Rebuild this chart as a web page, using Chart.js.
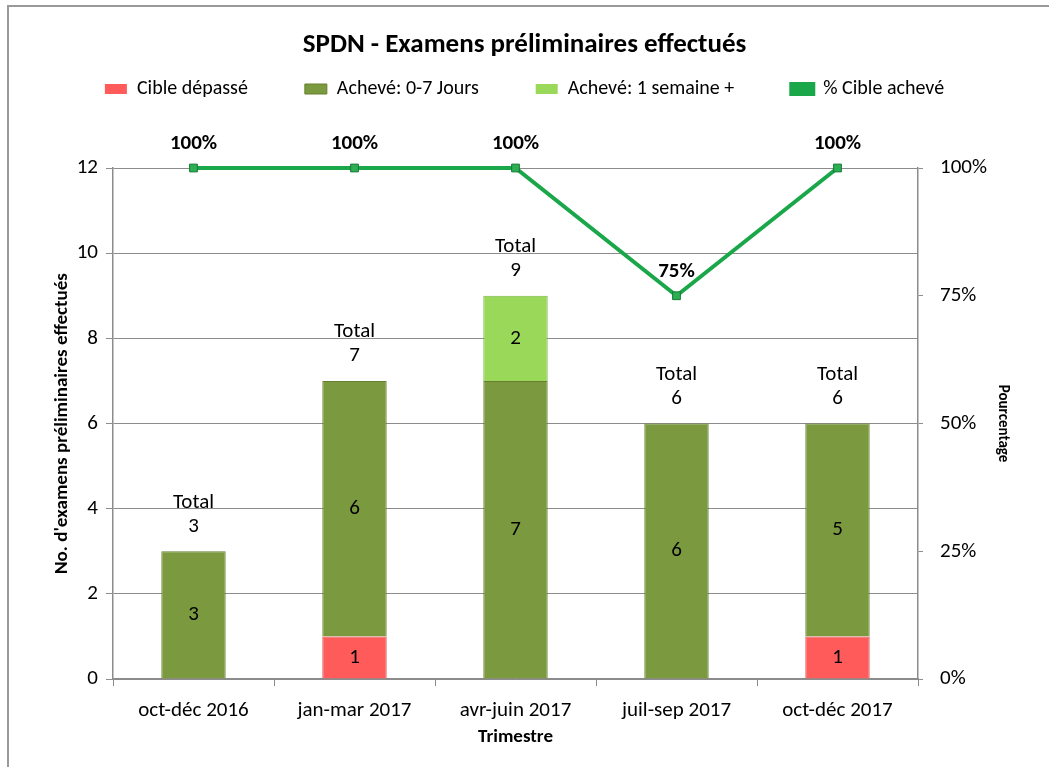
<!DOCTYPE html>
<html lang="fr">
<head>
<meta charset="utf-8">
<title>SPDN - Examens préliminaires effectués</title>
<script src="https://cdn.jsdelivr.net/npm/chart.js@4.4.1/dist/chart.umd.min.js"></script>
<style>
  html, body { margin: 0; padding: 0; background: #fff; overflow: hidden; }
  #wrap { position: relative; width: 1049px; height: 767px; }
  #frame {
    position: absolute; left: 7px; top: 5px; width: 1100px; height: 800px;
    border-top: 2px solid #9a9a9a; border-left: 2px solid #9a9a9a;
    pointer-events: none;
  }
</style>
</head>
<body>
<div id="wrap">
  <canvas id="chart" width="1049" height="767"></canvas>
  <div id="frame"></div>
</div>
<script>
  // ---- data ----
  const trimestres = ['oct-déc 2016', 'jan-mar 2017', 'avr-juin 2017', 'juil-sep 2017', 'oct-déc 2017'];
  const cibleDepasse = [0, 1, 0, 0, 1];
  const acheve07 = [3, 6, 7, 6, 5];
  const acheveSemaine = [0, 0, 2, 0, 0];
  const pctCible = [100, 100, 100, 75, 100];
  const countTicks = [0, 2, 4, 6, 8, 10, 12];
  const pctTicks = [0, 25, 50, 75, 100];

  const FONT = "Carlito, Lato, 'Open Sans', sans-serif";
  const LEGEND_PAD = 57;
  const LEGEND_SIZE = 20;
  const LABEL_SIZE = 21;

  // legend: wide item spacing, but keep the row near the title
  const legendTweak = {
    id: 'legendTweak',
    beforeInit(chart) {
      const lg = chart.legend;
      const fit = lg.fit;
      lg.fit = function () { fit.call(this); this.height = 100.8; };
      const draw = lg.draw;
      lg.draw = function () {
        const ctx = this.ctx;
        ctx.save();
        ctx.translate(0, 89 - (this.top + LEGEND_PAD + LEGEND_SIZE / 2));
        draw.call(this);
        ctx.restore();
      };
    }
  };

  // value labels for bars, totals and percentages
  const valueLabels = {
    id: 'valueLabels',
    afterDatasetsDraw(chart) {
      const ctx = chart.ctx;
      const yScale = chart.scales.y;
      ctx.save();
      ctx.fillStyle = '#000';
      ctx.textAlign = 'center';
      ctx.textBaseline = 'middle';
      ctx.font = LABEL_SIZE + 'px ' + FONT;
      [0, 1, 2].forEach(di => {
        const meta = chart.getDatasetMeta(di);
        meta.data.forEach((bar, i) => {
          const v = chart.data.datasets[di].data[i];
          if (!v) return;
          ctx.fillText(String(v), bar.x, (bar.y + bar.base) / 2);
        });
      });
      const barMeta = chart.getDatasetMeta(1);
      trimestres.forEach((t, i) => {
        const total = cibleDepasse[i] + acheve07[i] + acheveSemaine[i];
        const top = yScale.getPixelForValue(total);
        const x = barMeta.data[i].x;
        ctx.fillText('Total', x, top - 49);
        ctx.fillText(String(total), x, top - 25);
      });
      ctx.font = 'bold 21px ' + FONT;
      chart.getDatasetMeta(3).data.forEach((pt, i) => {
        ctx.fillText(pctCible[i] + '%', pt.x, pt.y - 24);
      });
      ctx.restore();
    }
  };

  const gridGray = '#8c8c8c';

  new Chart(document.getElementById('chart'), {
    data: {
      labels: trimestres,
      datasets: [
        {
          type: 'bar', label: 'Cible dépassé', data: cibleDepasse,
          backgroundColor: '#ff5b5b', borderColor: '#d94a4a',
          borderWidth: ctx => (ctx.raw ? 1 : 0), stack: 's', yAxisID: 'y', order: 2
        },
        {
          type: 'bar', label: 'Achevé: 0-7 Jours', data: acheve07,
          backgroundColor: '#7b9a3f', borderColor: '#66802f',
          borderWidth: ctx => (ctx.raw ? 1 : 0), stack: 's', yAxisID: 'y', order: 2
        },
        {
          type: 'bar', label: 'Achevé: 1 semaine +', data: acheveSemaine,
          backgroundColor: '#9ad85a', borderColor: '#7cb545',
          borderWidth: ctx => (ctx.raw ? 1 : 0), stack: 's', yAxisID: 'y', order: 2
        },
        {
          type: 'line', label: '% Cible achevé', data: pctCible, yAxisID: 'y1', order: 1,
          borderColor: '#1aa74a', backgroundColor: '#1aa74a', borderWidth: 4,
          pointStyle: 'rect', pointRadius: 5.5, pointBackgroundColor: '#2cae52',
          pointBorderColor: '#177a35', pointBorderWidth: 1, tension: 0, clip: false
        }
      ]
    },
    options: {
      responsive: false,
      animation: false,
      devicePixelRatio: 1,
      layout: { padding: 0 },
      datasets: { bar: { categoryPercentage: 0.8, barPercentage: 0.5 } },
      plugins: {
        title: {
          display: true,
          text: 'SPDN - Examens préliminaires effectués',
          color: '#000',
          font: { family: FONT, size: 27, weight: 'bold' },
          padding: { top: 28.8, bottom: 6 }
        },
        legend: {
          position: 'top',
          labels: {
            color: '#000',
            font: { family: FONT, size: LEGEND_SIZE },
            boxWidth: 22, boxHeight: 10, padding: LEGEND_PAD,
            sort: (a, b) => a.datasetIndex - b.datasetIndex
          }
        },
        tooltip: { enabled: false }
      },
      scales: {
        x: {
          stacked: true,
          offset: true,
          grid: { offset: true, drawOnChartArea: false, drawTicks: true, tickLength: 7, color: gridGray },
          border: { color: gridGray, width: 1.5 },
          ticks: { color: '#000', font: { family: FONT, size: LABEL_SIZE }, padding: 12 },
          title: {
            display: true, text: 'Trimestre', color: '#000',
            font: { family: FONT, size: 19, weight: 'bold' },
            padding: { top: 0, bottom: 18.6 }
          },
          afterFit(s) { s.height = 88; }
        },
        y: {
          stacked: true,
          position: 'left',
          min: 0, max: 12,
          afterBuildTicks(s) { s.ticks = countTicks.map(v => ({ value: v })); },
          grid: { color: gridGray, tickLength: 7 },
          border: { color: gridGray, width: 1.5 },
          ticks: { color: '#000', font: { family: FONT, size: LABEL_SIZE }, padding: 8 },
          title: {
            display: true, text: "No. d'examens préliminaires effectués", color: '#000',
            font: { family: FONT, size: 19, weight: 'bold' },
            padding: { top: 50.6, bottom: 0 }
          },
          afterFit(s) { s.width = 113; }
        },
        y1: {
          position: 'right',
          min: 0, max: 100,
          afterBuildTicks(s) { s.ticks = pctTicks.map(v => ({ value: v })); },
          grid: { drawOnChartArea: false, color: gridGray, tickLength: 5 },
          border: { color: gridGray, width: 1.5 },
          ticks: { color: '#000', font: { family: FONT, size: LABEL_SIZE }, padding: 17, callback: v => v + '%' },
          title: {
            display: true, text: 'Pourcentage', color: '#000',
            font: { family: FONT, size: 15, weight: 'bold' },
            padding: { top: 37, bottom: 0 }
          },
          afterFit(s) { s.width = 131; }
        }
      }
    },
    plugins: [legendTweak, valueLabels]
  });
</script>
</body>
</html>
